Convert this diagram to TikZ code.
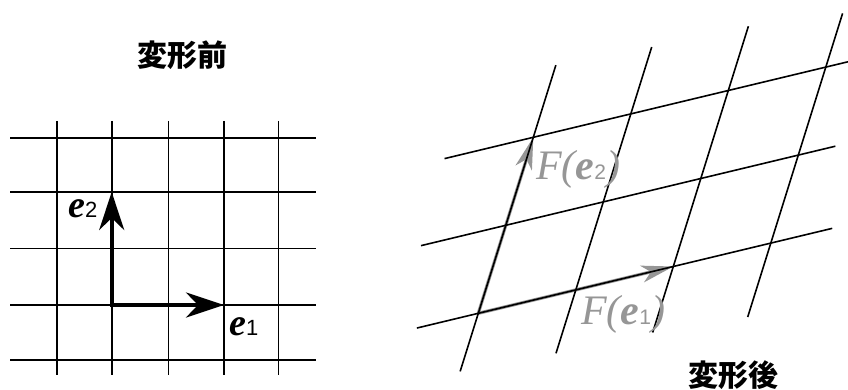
\documentclass[tikz,border=0pt]{standalone}
\usepackage{fontspec}
\setmainfont{Liberation Serif}
\setsansfont{Liberation Sans}
\newfontfamily\tms{Liberation Serif}
\newfontfamily\cjk{Noto Sans CJK JP}
\usetikzlibrary{arrows.meta}
\definecolor{fgray}{RGB}{150,150,150}
\begin{document}
\begin{tikzpicture}[x=1pt,y=-1pt,
  gridl/.style={line width=1.6pt},
  gridr/.style={line width=1.6pt},
  vecb/.style={line width=4pt,line cap=rect,-{Stealth[length=38pt,width=25pt,inset=12pt]}},
  vecg/.style={draw=fgray,line width=3.2pt,-{Stealth[length=32pt,width=17pt,inset=9pt]}},
  title/.style={font=\cjk\bfseries\fontsize{30}{30}\selectfont, inner sep=0pt},
  lbl/.style={inner sep=0pt, anchor=base west}]
\useasboundingbox (0,0) rectangle (848,390);
% left grid
\foreach \y in {138,192,248.5,305,360} \draw[gridl] (10,\y) -- (316,\y);
\foreach \x in {56.7,111.7,168.3,224,278.3} \draw[gridl] (\x,121) -- (\x,375);
\coordinate (o1) at (111.7,305);
\coordinate (e1t) at (224,305);
\coordinate (e2t) at (111.7,192);
\draw[vecb] (o1) -- (e1t);
\draw[vecb] (o1) -- (e2t);
\node[lbl] (le2) at (68,218) {{\tms\fontsize{38}{38}\selectfont\bfseries\itshape e}{\sffamily\fontsize{22}{22}\selectfont 2}};
\node[lbl] (le1) at (229,335) {{\tms\fontsize{38}{38}\selectfont\bfseries\itshape e}{\sffamily\fontsize{22}{22}\selectfont 1}};
\node[title] (t1) at (182.5,55) {変形前};
% right grid
\begin{scope}[shift={(478.3,313.3)}, x={(97.5pt,23.4pt)}, y={(27.5pt,88pt)}]
  \coordinate (O) at (0,0);
  \coordinate (Fe1) at (2,0);
  \coordinate (Fe2) at (0,2);
  \draw[vecg] (O) -- (Fe1);
  \draw[vecg] (O) -- (Fe2);
  \draw[gridr] (-0.63,0) -- (3.63,0);
  \draw[gridr] (-0.87,1) -- (3.38,1);
  \draw[gridr] (-0.91,2) -- (3.23,2);
  \draw[gridr] (0,-0.66) -- (0,2.82);
  \draw[gridr] (1,-0.72) -- (1,2.76);
  \draw[gridr] (2,-0.75) -- (2,2.73);
  \draw[gridr] (3,-0.84) -- (3,2.61);
\end{scope}
\node[lbl, text=fgray] (lf2) at (536,180) {\tms\fontsize{42}{42}\selectfont\itshape F(\textbf{e}{\sffamily\upshape\fontsize{21}{21}\selectfont 2})};
\node[lbl, text=fgray] (lf1) at (581,324) {\tms\fontsize{42}{42}\selectfont\itshape F(\textbf{e}{\sffamily\upshape\fontsize{21}{21}\selectfont 1})};
\node[title] (t2) at (733,375) {変形後};
\end{tikzpicture}
\end{document}
